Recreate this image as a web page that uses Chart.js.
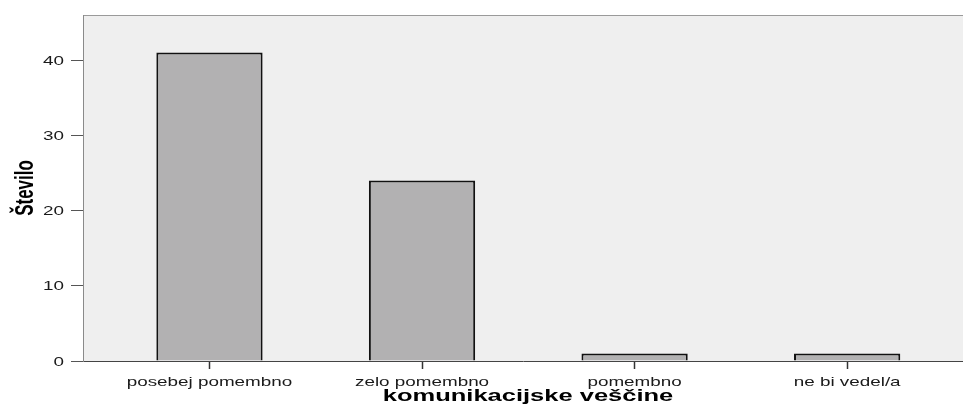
<!DOCTYPE html>
<html>
<head>
<meta charset="utf-8">
<script src="https://cdn.jsdelivr.net/npm/chart.js@4/dist/chart.umd.min.js"></script>
<style>
  html, body { margin: 0; padding: 0; background: #ffffff; }
  #wrap { width: 963px; height: 406px; }
</style>
</head>
<body>
<div id="wrap"><canvas id="c" width="963" height="406"></canvas></div>
<script>
// Answer categories and respondent counts
const categories = ['posebej pomembno', 'zelo pomembno', 'pomembno', 'ne bi vedel/a'];
const counts = [41, 24, 1, 1];

// Axis ticks and titles
const yTickValues = [0, 10, 20, 30, 40];
const yMax = 46;
const xTitle = 'komunikacijske veščine';
const yTitle = 'Število';

const FONT = '"Liberation Sans", Arial, Helvetica, sans-serif';
const TICK_STRETCH = 1.45;
const TITLE_STRETCH = 1.5;

// Text drawn with a horizontal stretch (wide SPSS-style lettering)
function wideText(ctx, text, x, y, o) {
  ctx.save();
  ctx.translate(x, y);
  ctx.scale(o.stretch, 1);
  if (o.rotate) ctx.rotate(-Math.PI / 2);
  ctx.font = o.font;
  ctx.fillStyle = o.color || '#1a1a1a';
  ctx.textAlign = o.align || 'center';
  ctx.textBaseline = 'alphabetic';
  ctx.fillText(text, 0, 0);
  ctx.restore();
}

const framePlugin = {
  id: 'frame',
  beforeDraw(chart) {
    const { ctx, chartArea: a } = chart;
    ctx.save();
    ctx.fillStyle = '#efefef';
    ctx.fillRect(a.left, a.top, a.right - a.left, a.bottom - a.top);
    ctx.strokeStyle = '#9a9a9a';
    ctx.lineWidth = 1;
    ctx.beginPath();
    ctx.moveTo(a.left, Math.round(a.top) + 0.5);
    ctx.lineTo(a.right, Math.round(a.top) + 0.5);
    ctx.stroke();
    ctx.restore();
  },
  afterDraw(chart) {
    const { ctx } = chart;
    const xs = chart.scales.x, ys = chart.scales.y;
    const tickFont = '13px ' + FONT;
    const titleFont = 'bold 17px ' + FONT;

    yTickValues.forEach(v => {
      wideText(ctx, String(v), ys.left - 7, ys.getPixelForValue(v) + 4.6,
        { stretch: TICK_STRETCH, font: tickFont, align: 'right' });
    });
    categories.forEach((c, i) => {
      wideText(ctx, c, xs.getPixelForValue(i), 386,
        { stretch: TICK_STRETCH, font: tickFont, align: 'center' });
    });
    wideText(ctx, xTitle, 528, 401,
      { stretch: TITLE_STRETCH, font: titleFont, align: 'center', color: '#000' });
    wideText(ctx, yTitle, 33, 188,
      { stretch: TITLE_STRETCH, font: titleFont, align: 'center', rotate: true, color: '#000' });
  }
};

new Chart(document.getElementById('c'), {
  type: 'bar',
  data: {
    datasets: [{
      data: counts.map((v, i) => ({ x: i, y: v })),
      backgroundColor: '#b2b1b2',
      borderColor: '#111111',
      borderWidth: 2,
      borderSkipped: 'start',
      categoryPercentage: 1,
      barPercentage: 0.5
    }]
  },
  options: {
    responsive: false,
    animation: false,
    events: [],
    layout: { padding: { left: 71, right: 0, top: 15, bottom: 37 } },
    plugins: { legend: { display: false }, tooltip: { enabled: false } },
    scales: {
      x: {
        type: 'linear',
        position: 'bottom',
        offset: false,
        min: -0.595,
        max: 3.545,
        z: 1,
        afterBuildTicks: s => { s.ticks = categories.map((c, i) => ({ value: i })); },
        ticks: { display: false },
        grid: { offset: false, drawOnChartArea: false, drawTicks: true, tickLength: 8, tickColor: '#333333', tickWidth: 1.5 },
        border: { display: true, color: '#444444', width: 1 }
      },
      y: {
        min: 0,
        max: yMax,
        afterBuildTicks: s => { s.ticks = yTickValues.map(v => ({ value: v })); },
        ticks: { display: false },
        grid: { drawOnChartArea: false, drawTicks: true, tickLength: 12, tickColor: '#555555', tickWidth: 1 },
        border: { display: true, color: '#8a8a8a', width: 1 }
      }
    }
  },
  plugins: [framePlugin]
});
</script>
</body>
</html>
